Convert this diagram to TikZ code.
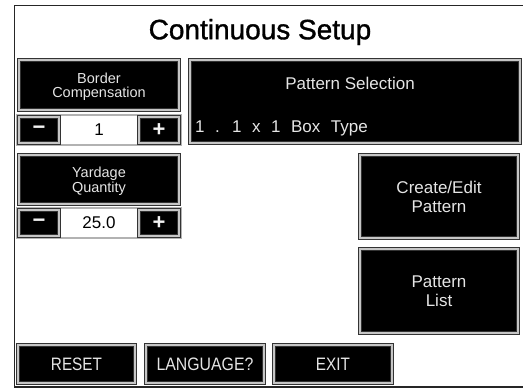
\documentclass[tikz,border=0pt]{standalone}
\usepackage{fontspec}
\setmainfont{Liberation Sans}
\newfontfamily\titlefont[FakeBold=1.2]{Liberation Sans}
\begin{document}
\begin{tikzpicture}[x=1pt,y=-1pt,
  btn/.style={draw=gray!40!black, double=gray!45, double distance=2.4pt, line width=0.8pt,
    fill=black, text=gray!20, inner sep=0pt, align=center},
  lbl/.style={text=gray!20, inner sep=0pt, align=center},
  small/.style={font=\fontsize{14.5}{16}\selectfont},
  mid/.style={font=\fontsize{17}{21}\selectfont},
  sign/.style={font=\fontsize{22}{22}\selectfont\bfseries, text=gray!10},
  bot/.style={font=\fontsize{18}{20}\selectfont}
]
\useasboundingbox (0,0) rectangle (523,389);
\fill[white] (0,0) rectangle (523,389);
% outer frame
\draw[gray!30!black, line width=1.8pt] (523,5.5) -- (14.5,5.5) -- (14.5,387) -- (523,387);
% title
\node (title) at (260,32) {\titlefont\fontsize{28}{30}\selectfont Continuous Setup};

% Border compensation
\node[btn, minimum width=160pt, minimum height=50pt] (bch) at (99,85) {};
\node[lbl, small] (bct) at (99,86.5) {Border\\[-1.5pt]Compensation};
\draw[gray!60, line width=1.5pt] (17,115) rectangle (181,145);
\node[btn, minimum width=40pt, minimum height=26pt] (bcm) at (39,130) {};
\node[sign] at (bcm) {−};
\node[btn, minimum width=40pt, minimum height=26pt] (bcp) at (159,130) {};
\node[sign] at (bcp) {+};
\node[mid, inner sep=0pt] (bcv) at (99,130) {1};

% Yardage quantity
\node[btn, minimum width=160pt, minimum height=49pt] (ydh) at (99,179.5) {};
\node[lbl, small] (ydt) at (99,181) {Yardage\\[-1.5pt]Quantity};
\draw[gray!60, line width=1.5pt] (17,208) rectangle (181,238);
\node[btn, minimum width=40pt, minimum height=26pt] (ydm) at (39,223) {};
\node[sign] at (ydm) {−};
\node[btn, minimum width=40pt, minimum height=26pt] (ydp) at (159,223) {};
\node[sign] at (ydp) {+};
\node[mid, inner sep=0pt] (ydv) at (99,223) {25.0};

% Pattern selection
\node[btn, minimum width=330pt, minimum height=83pt] (ps) at (355,101.5) {};
\node[lbl, mid] (pst) at (350,83) {Pattern Selection};
\node[lbl, mid, anchor=west] (psv) at (195,128) {\spaceskip=0.62em 1 . 1 x 1 Box Type};

% Create/Edit and Pattern list
\node[btn, mid, minimum width=158pt, minimum height=83pt] (ce) at (439,196.5) {Create/Edit\\[-2pt]Pattern};
\node[btn, mid, minimum width=158pt, minimum height=84pt] (pl) at (439,291) {Pattern\\[-2pt]List};

% bottom buttons
\node[btn, bot, minimum width=117pt, minimum height=38pt] (reset) at (76.5,364) {\scalebox{0.85}[1]{RESET}};
\node[btn, bot, minimum width=118pt, minimum height=38pt] (lang) at (205,364) {\scalebox{0.88}[1]{LANGUAGE?}};
\node[btn, bot, minimum width=118pt, minimum height=38pt] (exit) at (333,364) {\scalebox{0.85}[1]{EXIT}};
\end{tikzpicture}
\end{document}
